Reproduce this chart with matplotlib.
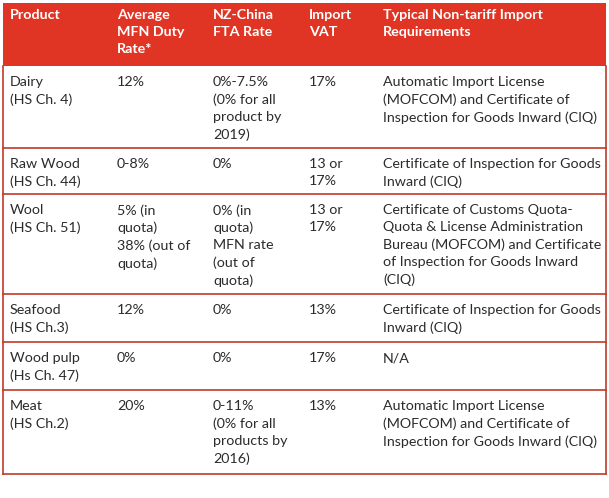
import matplotlib.pyplot as plt
from matplotlib.patches import Rectangle

# table content
headers = ['Product', 'Average\nMFN Duty\nRate*', 'NZ-China\nFTA Rate', 'Import\nVAT',
           'Typical Non-tariff Import\nRequirements']
products = ['Dairy\n(HS Ch. 4)', 'Raw Wood\n(HS Ch. 44)', 'Wool\n(HS Ch. 51)',
            'Seafood\n(HS Ch.3)', 'Wood pulp\n(Hs Ch. 47)', 'Meat\n(HS Ch.2)']
mfn_rates = ['12%', '0-8%', '5% (in\nquota)\n38% (out of\nquota)', '12%', '0%', '20%']
fta_rates = ['0%-7.5%\n(0% for all\nproduct by\n2019)', '0%',
             '0% (in\nquota)\nMFN rate\n(out of\nquota)', '0%', '0%',
             '0-11%\n(0% for all\nproducts by\n2016)']
import_vat = ['17%', '13 or\n17%', '13 or\n17%', '13%', '17%', '13%']
requirements = [
    'Automatic Import License\n(MOFCOM) and Certificate of\nInspection for Goods Inward (CIQ)',
    'Certificate of Inspection for Goods\nInward (CIQ)',
    'Certificate of Customs Quota-\nQuota & License Administration\nBureau (MOFCOM) and Certificate\nof Inspection for Goods Inward\n(CIQ)',
    'Certificate of Inspection for Goods\nInward (CIQ)',
    'N/A',
    'Automatic Import License\n(MOFCOM) and Certificate of\nInspection for Goods Inward (CIQ)',
]

W, H = 609, 498
col_x = [10, 117, 213, 309, 383]
row_edges = [66, 148, 194, 294, 342, 390, 474]
left, right, top = 3, 606, 3
red = '#E03524'
line_red = '#C0392B'

plt.rcParams['font.family'] = ['Lato', 'DejaVu Sans']
fig = plt.figure(figsize=(W / 100, H / 100), dpi=100)
ax = fig.add_axes([0, 0, 1, 1])
ax.set_xlim(0, W)
ax.set_ylim(H, 0)
ax.axis('off')

# header band
ax.add_patch(Rectangle((left, top), right - left, row_edges[0] - top, color=red, lw=0))
for x, h in zip(col_x, headers):
    ax.text(x, 9, h, color='white', fontsize=10.3, fontweight='bold',
            va='top', ha='left', linespacing=1.5)

# body
rows = list(zip(products, mfn_rates, fta_rates, import_vat, requirements))
for i, row in enumerate(rows):
    y0 = row_edges[i]
    for x, cell in zip(col_x, row):
        ax.text(x, y0 + 10, cell, color='#2b2b2b', fontsize=10.3,
                va='top', ha='left', linespacing=1.5)
    ax.plot([left, right], [row_edges[i + 1], row_edges[i + 1]], color=line_red, lw=1.2)

# outer side borders
ax.plot([left, left], [row_edges[0], row_edges[-1]], color=line_red, lw=1.2)
ax.plot([right, right], [row_edges[0], row_edges[-1]], color=line_red, lw=1.2)

fig.savefig('out.png', dpi=100)
